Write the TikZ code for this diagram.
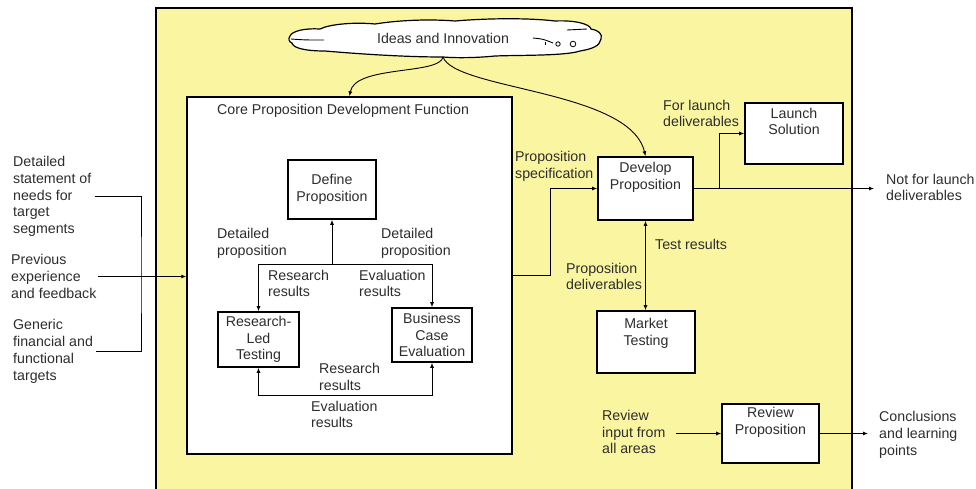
\documentclass[tikz,border=0pt]{standalone}
\usepackage{fontspec}
\setmainfont{Liberation Sans}
\usetikzlibrary{arrows.meta}
\definecolor{paleyellow}{RGB}{250,245,160}
\definecolor{inkgray}{RGB}{45,45,45}

\begin{document}
\begin{tikzpicture}[x=1pt,y=-1pt,
		txt/.style={inner sep=1pt, align=left, text=inkgray, font=\fontsize{14.2}{16.8}\selectfont},
		ctxt/.style={txt, align=center},
		box/.style={draw, line width=1.6pt, fill=white, inner sep=0pt},
		arr/.style={-{Latex[length=5pt,width=4pt]}, line width=0.9pt},
		arrb/.style={{Latex[length=5pt,width=4pt]}-{Latex[length=5pt,width=4pt]}, line width=0.9pt}]
		\useasboundingbox (0,0) rectangle (976,488);
		\fill [paleyellow] (156,8) rectangle (852,500);
		\draw [line width=2pt] (156,500) -- (156,8) -- (852,8) -- (852,500);
		\draw [line width=1.2pt, fill=white] (290,36) .. controls (292,31) and (305,28) .. (320,29)
			.. controls (330,24) and (355,22) .. (375,24)
			.. controls (400,20) and (430,19) .. (455,21)
			.. controls (490,18) and (530,18) .. (555,21)
			.. controls (575,20) and (590,24) .. (591,29)
			.. controls (598,30) and (603,34) .. (601,39)
			.. controls (600,46) and (592,49) .. (580,51)
			.. controls (565,56) and (520,55) .. (495,56)
			.. controls (475,58) and (455,58) .. (443,57)
			.. controls (405,57) and (360,54) .. (325,51)
			.. controls (305,51) and (293,48) .. (292,43)
			.. controls (289,42) and (288,39) .. (290,36) -- cycle;
		\draw [line width=0.9pt] (291,39) .. controls (305,40) .. (324,40);
		\draw [line width=0.9pt] (567,30) -- (587,29);
		\draw [line width=0.9pt] (533,38) .. controls (543,39) .. (553,43);
		\draw [line width=0.9pt] (545,42) -- (545,45);
		\draw [line width=0.8pt] (558,44) circle (2.2pt);
		\draw [line width=0.8pt] (573,44) circle (2.8pt);
		\node [txt] (ideas) at (443,38) {Ideas and Innovation};
		\coordinate (cloudfoot) at (443,57);
		\node [box, line width=1.4pt, minimum width=325pt, minimum height=357pt] (core) at (349.5,275.5) {};
		\node [txt, anchor=west] (coretitle) at (216,111) {Core Proposition Development Function};
		\node [box, ctxt, minimum width=88pt, minimum height=59pt] (define) at (332,189.5) {Define\\Proposition};
		\node [box, ctxt, minimum width=81pt, minimum height=55pt] (rlt) at (258.5,339.5) {Research-\\Led\\Testing};
		\node [box, ctxt, minimum width=80pt, minimum height=54pt] (bce) at (432,335) {Business\\Case\\Evaluation};
		\node [box, minimum width=95pt, minimum height=63pt] (develop) at (645.5,188.5) {};
		\node [ctxt] (developtxt) at (645.5,177.5) {Develop\\Proposition};
		\node [box, minimum width=98pt, minimum height=61pt] (launch) at (794,133.5) {};
		\node [ctxt] (launchtxt) at (794,121.5) {Launch\\Solution};
		\node [box, minimum width=98pt, minimum height=62pt] (market) at (646,342) {};
		\node [ctxt] (markettxt) at (646,333) {Market\\Testing};
		\node [box, minimum width=97pt, minimum height=59pt] (review) at (770.5,433.5) {};
		\node [ctxt] (reviewtxt) at (770.5,422.5) {Review\\Proposition};
		\node [txt, anchor=west, inner xsep=3pt] (needs) at (10,196.5) {Detailed\\statement of\\needs for\\target\\segments};
		\node [txt, anchor=west] (experience) at (10,276.5) {Previous\\experience\\and feedback};
		\node [txt, anchor=west, inner xsep=3pt] (targets) at (10,351.5) {Generic\\financial and\\functional\\targets};
		\node [txt, anchor=west] (detleft) at (216,243.5) {Detailed\\proposition};
		\node [txt, anchor=west] (detright) at (380,243.5) {Detailed\\proposition};
		\node [txt, anchor=west] (resup) at (267,283.5) {Research\\results};
		\node [txt, anchor=west] (evalup) at (358,283.5) {Evaluation\\results};
		\node [txt, anchor=west] (resdown) at (318,377) {Research\\results};
		\node [txt, anchor=west] (evaldown) at (310,414.5) {Evaluation\\results};
		\node [txt, anchor=west] (propspec) at (514,166.5) {Proposition\\specification};
		\node [txt, anchor=west] (forlaunch) at (662,113.5) {For launch\\deliverables};
		\node [txt, anchor=west] (notfor) at (885,187.5) {Not for launch\\deliverables};
		\node [txt, anchor=west] (testres) at (654,244) {Test results};
		\node [txt, anchor=west] (propdel) at (565,276.5) {Proposition\\deliverables};
		\node [txt, anchor=west] (reviewin) at (601,432) {Review\\input from\\all areas};
		\node [txt, anchor=west] (concl) at (878,435) {Conclusions\\and learning\\points};
		\coordinate (join) at (141,276);
		\coordinate (split) at (332,264.5);
		\coordinate (loop) at (345,395.5);
		\coordinate (branch) at (719,188.5);
		\draw [line width=0.9pt] (needs.east) -| (join) |- (targets.east);
		\draw [arr] (experience.east) -- (experience.east -| core.west);
		\draw [arr] (cloudfoot) .. controls (440,75) and (355,65) .. (core.north);
		\draw [arr] (cloudfoot) .. controls (455,90) and (630,90) .. (develop.north);
		\draw [arr] (split) -- (define.south);
		\draw [arr] (split) -| (rlt.north);
		\draw [arr] (split) -| (bce.north);
		\draw [arrb] (rlt.south) |- (loop) -| (bce.south);
		\draw [arr] (core.east) -- ++(38,0) |- (develop.west);
		\draw [arr, shorten >=11pt] (develop.east) -- (develop.east -| notfor.west);
		\draw [arr] (branch) |- (launch.west);
		\draw [arrb] (develop.south) -- (develop.south |- market.north);
		\draw [arr, shorten <=9pt] (reviewin.east |- review.west) -- (review.west);
		\draw [arr, shorten >=10pt] (review.east) -- (review.east -| concl.west);
	\end{tikzpicture}
\end{document}
